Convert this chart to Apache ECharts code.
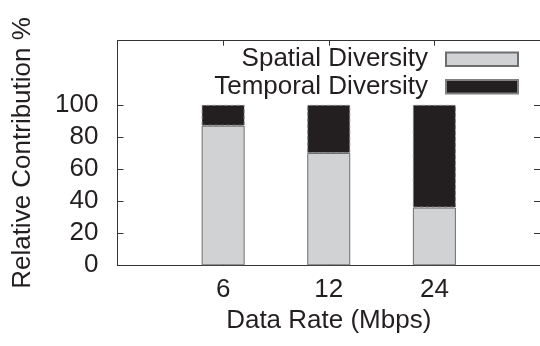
<!DOCTYPE html>
<html><head><meta charset="utf-8">
<script src="https://cdn.jsdelivr.net/npm/echarts@6/dist/echarts.min.js"></script>
<style>html,body{margin:0;padding:0;background:#fff}#c{width:540px;height:346px}</style>
</head><body><div id="c"></div>
<script>
const categories = ['6', '12', '24'];
const spatial = [87, 70, 36];
const temporal = [13, 30, 64];
const yTicks = [0, 20, 40, 60, 80, 100];
const seriesNames = ['Spatial Diversity', 'Temporal Diversity'];

const FONT = 'Liberation Sans';
const FS = 26;
const axisColor = '#333';
const txt = '#231f20';

// pad one empty slot on each side so that the plot spans 4 category steps
const axisCats = [''].concat(categories, ['']);
const pad = arr => ['-'].concat(arr, ['-']);
const showCat = (i, v) => v !== '';

const chart = echarts.init(document.getElementById('c'), null, {renderer: 'canvas'});
const xBase = {
  type: 'category', data: axisCats, boundaryGap: false,
  axisLine: {show: true, onZero: false, lineStyle: {color: axisColor, width: 1}},
  axisTick: {show: true, inside: true, length: 5, interval: showCat, lineStyle: {color: axisColor}},
  splitLine: {show: false}
};
const yBase = {
  type: 'value', min: 0, max: 140, interval: 20,
  axisLine: {show: true, onZero: false, lineStyle: {color: axisColor, width: 1}},
  axisTick: {show: true, inside: true, length: 6, customValues: yTicks, lineStyle: {color: axisColor}},
  splitLine: {show: false}
};
chart.setOption({
  animation: false,
  textStyle: {fontFamily: FONT},
  grid: {left: 117.5, right: -2, top: 40.7, bottom: 80.7, containLabel: false},
  legend: {
    orient: 'vertical', align: 'right', right: 16, top: 40.6, icon: 'rect',
    itemWidth: 72, itemHeight: 13.5, itemGap: 0,
    textStyle: {fontFamily: FONT, fontSize: FS, color: txt, lineHeight: 27.4, padding: [0, 13, 0, 0]},
    data: seriesNames
  },
  xAxis: [Object.assign({}, xBase, {
    position: 'bottom',
    name: 'Data Rate (Mbps)', nameLocation: 'middle', nameGap: 31,
    nameTextStyle: {fontFamily: FONT, fontSize: FS, color: txt},
    axisLabel: {interval: showCat, fontFamily: FONT, fontSize: FS, color: txt, margin: 12}
  }), Object.assign({}, xBase, {
    position: 'top', axisLabel: {show: false}
  })],
  yAxis: [Object.assign({}, yBase, {
    position: 'left',
    name: 'Relative Contribution %', nameLocation: 'middle', nameGap: 82,
    nameTextStyle: {fontFamily: FONT, fontSize: FS, color: txt},
    axisLabel: {customValues: yTicks, fontFamily: FONT, fontSize: FS, color: txt, margin: 19}
  }), Object.assign({}, yBase, {
    position: 'right', axisLabel: {show: false}
  })],
  series: [{
    name: seriesNames[0], type: 'bar', stack: 'total', barWidth: 43,
    xAxisIndex: 0, yAxisIndex: 0,
    itemStyle: {color: '#d1d2d4', borderColor: '#6d6e70', borderWidth: 1},
    data: pad(spatial)
  }, {
    name: seriesNames[1], type: 'bar', stack: 'total', barWidth: 43,
    xAxisIndex: 0, yAxisIndex: 0,
    itemStyle: {color: '#231f20', borderColor: '#808080', borderWidth: 1, borderType: 'dashed'},
    data: pad(temporal)
  }]
});
</script></body></html>
